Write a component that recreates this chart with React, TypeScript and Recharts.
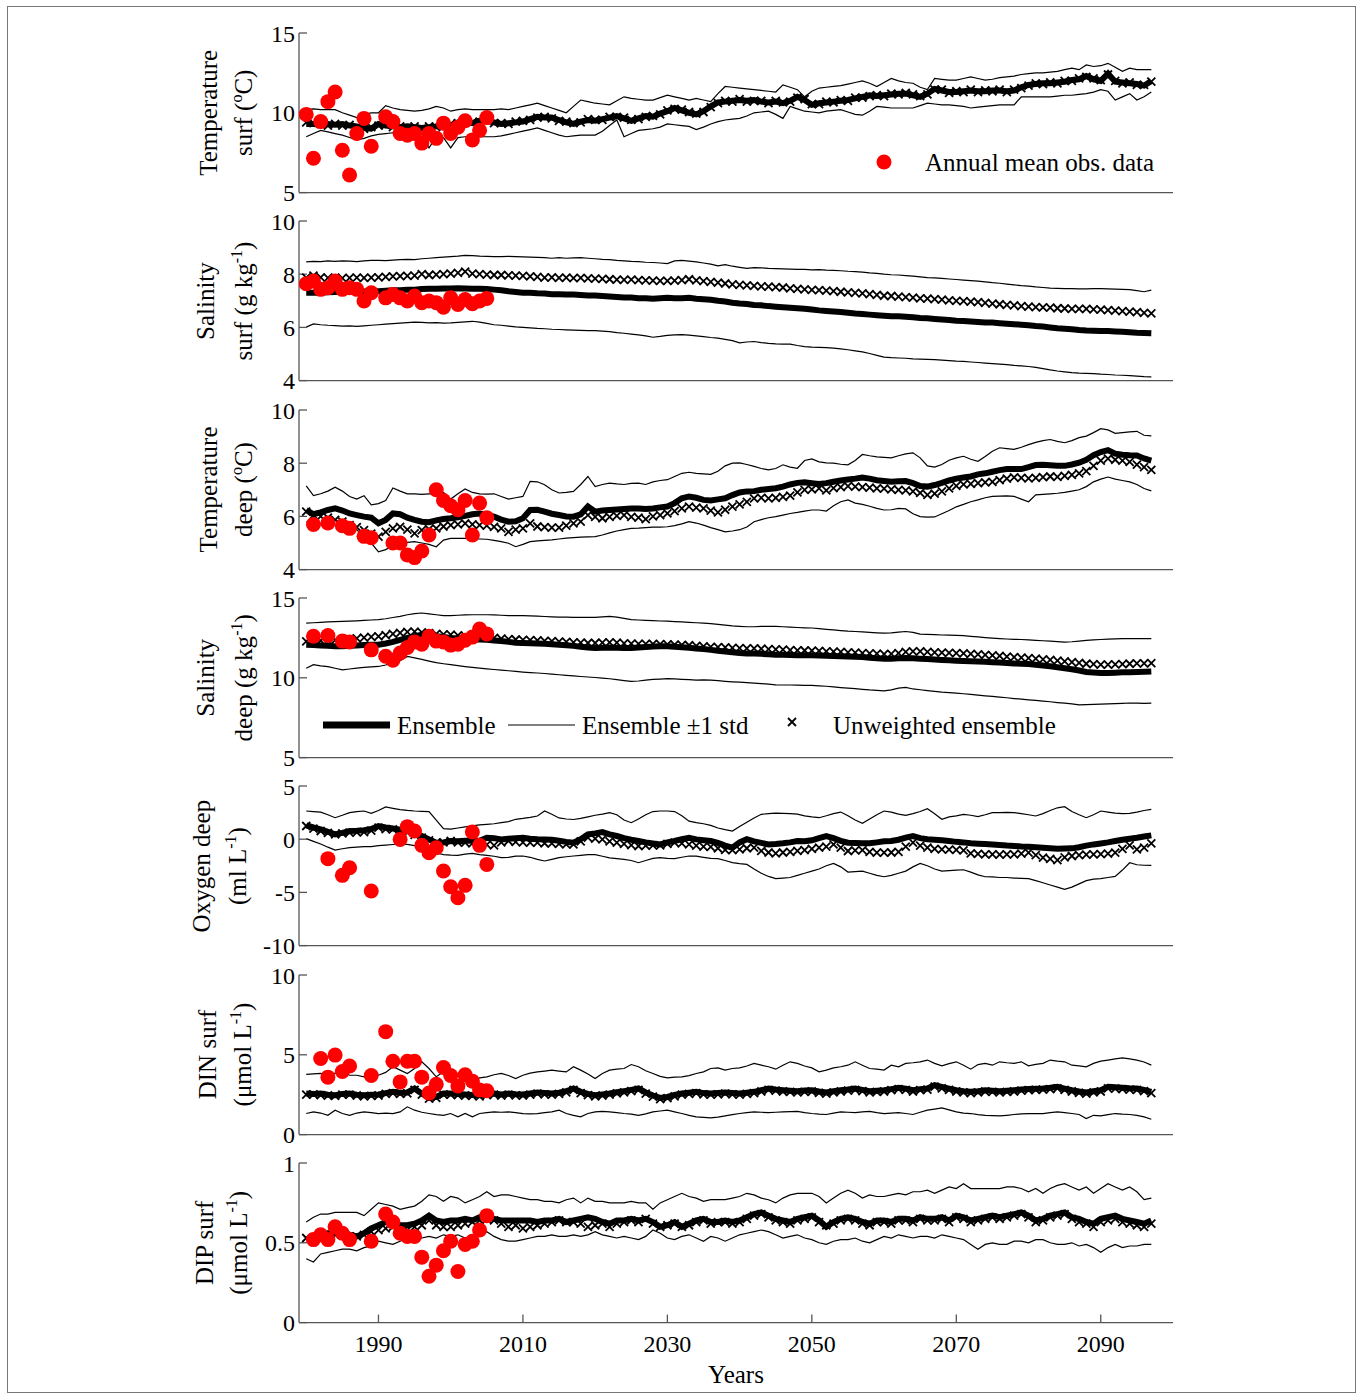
import React from "react";
import { ComposedChart, Line, XAxis, YAxis } from "recharts";

const FONT = "'Liberation Serif', 'Times New Roman', serif";
const AXIS = "#555";
const RED = "#ff0000";

const years = Array.from({ length: 118 }, (_, i) => 1980 + i);
const yearTicks = [1990, 2010, 2030, 2050, 2070, 2090];

// ---------- Temperature surf (°C) ----------
const tsEns = [
  9.3, 9.3, 9.25, 9.3, 9.25, 9.3, 9.2, 9.15, 9.05, 9.0,
  9.3, 9.2, 9.15, 9.1, 9.15, 9.1, 9.05, 9.1, 9.15, 9.3,
  9.2, 9.4, 9.45, 9.35, 9.5, 9.5, 9.4, 9.3, 9.35, 9.4,
  9.45, 9.6, 9.75, 9.7, 9.7, 9.55, 9.4, 9.3, 9.45, 9.55,
  9.5, 9.6, 9.7, 9.8, 9.65, 9.5, 9.65, 9.8, 9.75, 9.95,
  10.1, 10.3, 10.15, 10.0, 9.9, 10.1, 10.4, 10.65, 10.7, 10.75,
  10.8, 10.75, 10.8, 10.7, 10.65, 10.7, 10.6, 10.75, 11.0, 10.8,
  10.5, 10.6, 10.65, 10.7, 10.75, 10.8, 10.9, 11.0, 11.1, 11.05,
  11.1, 11.15, 11.2, 11.2, 11.1, 11.0, 11.2, 11.5, 11.4, 11.3,
  11.3, 11.35, 11.4, 11.35, 11.35, 11.4, 11.4, 11.35, 11.4, 11.6,
  11.75, 11.8, 11.85, 11.85, 11.9, 11.95, 12.05, 12.1, 12.3, 12.1,
  12.0, 12.45, 11.95, 11.9, 11.85, 11.8, 11.7, 12.0,
];
const tsHi = [
  10.2, 10.25, 10.2, 10.2, 10.2, 10.0, 9.85, 9.7, 9.9, 10.0,
  10.0, 10.45, 10.3, 10.2, 10.15, 10.1, 10.15, 10.25, 10.4, 10.3,
  10.1, 10.2, 10.25, 10.2, 10.2, 10.2, 10.2, 10.25, 10.2, 10.3,
  10.4, 10.5, 10.6, 10.45, 10.3, 10.15, 10.0, 10.4, 10.8, 10.7,
  10.6, 10.55, 10.5, 10.75, 11.0, 10.9, 10.85, 10.8, 10.8, 10.95,
  11.1, 11.0, 10.9, 10.8, 10.9, 10.8, 10.7, 11.2, 11.65, 11.6,
  11.55, 11.5, 11.45, 11.4, 11.35, 11.3, 11.75, 11.6, 11.45, 11.0,
  11.35, 11.55, 11.6, 11.65, 11.7, 11.8, 11.9, 12.0, 11.85, 11.65,
  11.9, 12.15, 12.0, 11.9, 11.85, 11.6, 11.45, 12.15, 12.1, 12.05,
  12.05, 12.15, 12.25, 12.15, 12.05, 12.1, 12.2, 12.25, 12.3, 12.4,
  12.45, 12.5, 12.5, 12.55, 12.6, 12.7, 12.8, 12.7, 13.0, 12.9,
  12.95, 13.1, 12.85, 12.6, 12.8, 12.7, 12.7, 12.7,
];
const tsLo = [
  8.5, 8.7, 8.9, 8.8, 8.7, 8.6, 8.45, 8.3, 8.4, 8.55,
  8.65, 8.7, 8.75, 8.6, 8.5, 8.45, 8.5, 7.8, 8.5, 8.45,
  7.8, 8.45, 8.5, 8.5, 8.5, 8.5, 8.5, 8.55, 8.65, 8.75,
  8.85, 8.95, 9.05, 8.9, 8.75, 8.6, 8.5, 8.55, 8.6, 8.6,
  8.6, 8.85, 9.2, 9.55, 8.5, 8.7, 8.9, 8.95, 9.0, 9.1,
  9.3, 9.25, 9.2, 9.15, 8.95, 9.1, 9.3, 9.45, 9.55, 9.6,
  9.65, 9.8, 10.0, 10.05, 10.1, 9.9, 9.65, 10.4, 10.25, 10.1,
  10.05, 10.0, 10.1, 10.15, 10.2, 10.05, 9.9, 9.85, 10.1, 10.4,
  10.35, 10.3, 10.3, 10.3, 10.3, 10.45, 10.6, 10.55, 10.5, 10.5,
  10.45, 10.4, 10.3, 10.35, 10.4, 10.45, 10.5, 10.5, 10.5, 11.0,
  11.0, 11.0, 11.0, 11.0, 11.05, 11.1, 11.1, 11.15, 11.2, 11.3,
  11.45, 11.35, 10.8, 11.0, 11.2, 10.8, 11.0, 11.3,
];
const tsUnw = [
  9.4, 9.35, 9.3, 9.2, 9.3, 9.2, 9.25, 9.1, 9.0, 9.1,
  9.2, 9.25, 9.1, 9.15, 9.05, 9.15, 9.0, 9.15, 9.1, 9.25,
  9.3, 9.35, 9.5, 9.4, 9.45, 9.55, 9.35, 9.35, 9.3, 9.45,
  9.5, 9.55, 9.7, 9.75, 9.65, 9.5, 9.45, 9.35, 9.4, 9.6,
  9.55, 9.55, 9.75, 9.75, 9.7, 9.55, 9.6, 9.75, 9.8, 9.9,
  10.15, 10.25, 10.2, 10.05, 9.95, 10.05, 10.35, 10.6, 10.75, 10.7,
  10.85, 10.7, 10.75, 10.75, 10.6, 10.75, 10.65, 10.7, 10.95, 10.85,
  10.55, 10.55, 10.7, 10.65, 10.8, 10.75, 10.95, 10.95, 11.05, 11.1,
  11.05, 11.2, 11.15, 11.25, 11.15, 11.05, 11.15, 11.45, 11.45, 11.25,
  11.35, 11.3, 11.45, 11.3, 11.4, 11.35, 11.45, 11.3, 11.45, 11.55,
  11.7, 11.85, 11.8, 11.9, 11.85, 12.0, 12.0, 12.15, 12.25, 12.15,
  12.05, 12.4, 12.0, 11.85, 11.9, 11.75, 11.75, 11.95,
];
// observations 1980-2005
const tsObs = [
  9.9, 7.15, 9.45, 10.7, 11.3, 7.65, 6.1, 8.7, 9.65, 7.9,
  null, 9.75, 9.45, 8.7, 8.6, 8.7, 8.1, 8.7, 8.4, 9.35,
  8.7, 9.1, 9.5, 8.3, 8.9, 9.7,
];

// ---------- Salinity surf (g kg-1) ----------
const ssEns = [
  7.3, 7.3, 7.3, 7.32, 7.33, 7.33, 7.35, 7.35, 7.35, 7.36,
  7.36, 7.38, 7.4, 7.4, 7.42, 7.42, 7.44, 7.45, 7.45, 7.46,
  7.46, 7.47, 7.46, 7.45, 7.45, 7.44, 7.42, 7.4, 7.36, 7.33,
  7.3, 7.3, 7.28, 7.27, 7.25, 7.25, 7.24, 7.24, 7.22, 7.2,
  7.2, 7.18, 7.16, 7.14, 7.12, 7.12, 7.1, 7.1, 7.08, 7.1,
  7.11, 7.1, 7.1, 7.11, 7.08, 7.06, 7.04, 7.0, 6.97, 6.93,
  6.9, 6.88, 6.84, 6.83, 6.8, 6.78, 6.76, 6.74, 6.72, 6.7,
  6.67, 6.64, 6.62, 6.6, 6.58, 6.55, 6.52, 6.5, 6.48, 6.46,
  6.44, 6.42, 6.42, 6.4, 6.38, 6.35, 6.34, 6.32, 6.3, 6.28,
  6.25, 6.24, 6.22, 6.2, 6.18, 6.18, 6.16, 6.14, 6.12, 6.1,
  6.08, 6.05, 6.03, 6.0, 5.97, 5.95, 5.93, 5.9, 5.88, 5.87,
  5.86, 5.86, 5.85, 5.84, 5.82, 5.8, 5.79, 5.78,
];
const ssHi = [
  8.46, 8.48, 8.47, 8.5, 8.48, 8.5, 8.49, 8.47, 8.5, 8.52,
  8.52, 8.51, 8.53, 8.55, 8.56, 8.55, 8.58, 8.6, 8.62, 8.64,
  8.66, 8.68, 8.71, 8.7, 8.68, 8.67, 8.66, 8.66, 8.67, 8.66,
  8.65, 8.64, 8.63, 8.62, 8.6, 8.62, 8.6, 8.61, 8.62, 8.6,
  8.58, 8.56, 8.55, 8.52, 8.5, 8.48, 8.47, 8.45, 8.44, 8.42,
  8.4, 8.5, 8.52, 8.49, 8.46, 8.42, 8.38, 8.31, 8.36, 8.3,
  8.26, 8.22, 8.25, 8.24, 8.22, 8.21, 8.2, 8.19, 8.18, 8.18,
  8.16, 8.17, 8.15, 8.14, 8.13, 8.11, 8.1, 8.08, 8.05, 8.03,
  8.0, 7.98, 7.97, 7.95, 7.93, 7.9, 7.87, 7.86, 7.84, 7.82,
  7.8, 7.78, 7.76, 7.74, 7.71, 7.68, 7.66, 7.63, 7.6, 7.57,
  7.55, 7.52, 7.5, 7.48, 7.47, 7.46, 7.46, 7.45, 7.45, 7.46,
  7.46, 7.45, 7.44, 7.43, 7.42, 7.38, 7.34, 7.4,
];
const ssLo = [
  6.01, 6.13, 6.1, 6.08, 6.07, 6.05, 6.06, 6.04, 6.06, 6.08,
  6.1, 6.12, 6.14, 6.16, 6.18, 6.2, 6.19, 6.17, 6.18, 6.16,
  6.17, 6.19, 6.21, 6.23, 6.2, 6.15, 6.1, 6.08, 6.05, 6.02,
  6.0, 5.98, 5.96, 5.95, 5.93, 5.92, 5.91, 5.9, 5.89, 5.88,
  5.88, 5.86, 5.84, 5.8, 5.78, 5.75, 5.72, 5.68, 5.63, 5.66,
  5.7, 5.72, 5.73, 5.71, 5.68, 5.65, 5.62, 5.6, 5.55, 5.5,
  5.42, 5.45, 5.47, 5.43, 5.4, 5.38, 5.37, 5.37, 5.32, 5.28,
  5.26, 5.25, 5.24, 5.22, 5.19, 5.16, 5.12, 5.08, 5.02, 4.95,
  4.88, 4.86, 4.85, 4.84, 4.82, 4.81, 4.8, 4.79, 4.77, 4.75,
  4.73, 4.72, 4.7, 4.68, 4.66, 4.64, 4.62, 4.6, 4.57, 4.55,
  4.53, 4.5, 4.45, 4.4, 4.36, 4.33, 4.3, 4.28, 4.27, 4.26,
  4.24, 4.23, 4.21, 4.2, 4.19, 4.17, 4.15, 4.14,
];
const ssUnw = [
  7.87, 7.95, 7.88, 7.86, 7.87, 7.85, 7.86, 7.87, 7.86, 7.87,
  7.88, 7.9, 7.92, 7.93, 7.94, 7.95, 8.0, 7.97, 7.98, 8.0,
  8.02, 8.05, 8.1, 8.02, 8.0, 7.98, 7.97, 7.97, 7.96, 7.95,
  7.94, 7.92, 7.9, 7.87, 7.88, 7.86, 7.87, 7.85, 7.86, 7.84,
  7.83, 7.82, 7.81, 7.8, 7.79, 7.8, 7.78, 7.77, 7.76, 7.75,
  7.75, 7.76, 7.78, 7.81, 7.77, 7.74, 7.71, 7.68, 7.65, 7.62,
  7.6, 7.58, 7.56, 7.54, 7.53, 7.51, 7.5, 7.47, 7.45, 7.43,
  7.41, 7.4, 7.38, 7.36, 7.34, 7.32, 7.3, 7.28, 7.25, 7.22,
  7.19, 7.18, 7.16, 7.14, 7.12, 7.09, 7.08, 7.06, 7.04, 7.02,
  7.0, 6.99, 6.97, 6.95, 6.92, 6.89, 6.87, 6.85, 6.83, 6.8,
  6.78, 6.76, 6.75, 6.74, 6.72, 6.71, 6.7, 6.7, 6.7, 6.68,
  6.67, 6.65, 6.63, 6.61, 6.59, 6.57, 6.55, 6.53,
];
const ssObs = [
  7.64, 7.74, 7.43, 7.49, 7.74, 7.43, 7.49, 7.43, 6.99, 7.3,
  null, 7.11, 7.24, 7.11, 6.99, 7.18, 6.93, 6.99, 6.93, 6.76,
  7.11, 6.86, 7.05, 6.89, 6.99, 7.09,
];

// ---------- Temperature deep (°C) ----------
const tdEns = [
  6.24, 6.08, 6.15, 6.24, 6.3, 6.22, 6.11, 6.05, 5.99, 5.95,
  5.74, 5.87, 6.11, 6.08, 5.95, 5.87, 5.8, 5.78, 5.85, 5.9,
  5.93, 5.97, 6.02, 6.08, 6.11, 6.05, 5.99, 5.88, 5.8, 5.82,
  5.93, 6.24, 6.25, 6.18, 6.1, 6.05, 6.0, 5.99, 6.08, 6.37,
  6.18, 6.22, 6.24, 6.26, 6.28, 6.3, 6.3, 6.28, 6.3, 6.34,
  6.37, 6.5, 6.68, 6.75, 6.7, 6.62, 6.6, 6.64, 6.68, 6.8,
  6.9, 6.94, 6.95, 7.0, 7.03, 7.06, 7.12, 7.2, 7.26, 7.28,
  7.25, 7.22, 7.25, 7.3, 7.35, 7.39, 7.42, 7.46, 7.42, 7.36,
  7.33, 7.3, 7.32, 7.33, 7.25, 7.14, 7.12, 7.18, 7.26, 7.35,
  7.42, 7.46, 7.5, 7.58, 7.62, 7.68, 7.74, 7.78, 7.78, 7.78,
  7.85, 7.93, 7.94, 7.92, 7.9, 7.9, 7.95, 8.02, 8.13, 8.3,
  8.42, 8.49, 8.36, 8.32, 8.3, 8.29, 8.18, 8.1,
];
const tdHi = [
  7.15, 6.78, 6.85, 6.95, 7.1, 6.95, 6.75, 6.65, 6.78, 6.43,
  6.48, 6.6, 7.07, 6.95, 6.85, 6.85, 6.83, 6.85, 6.85, 6.9,
  6.65, 6.85, 7.03, 6.9, 6.85, 6.84, 6.85, 6.75, 6.65, 6.7,
  6.75, 7.32, 7.3, 7.19, 7.0, 6.88, 6.9, 6.94, 7.2, 7.5,
  7.12, 7.2, 7.25, 7.22, 7.2, 7.24, 7.25, 7.2, 7.3, 7.35,
  7.38, 7.5, 7.62, 7.66, 7.62, 7.6, 7.58, 7.7, 7.9, 8.0,
  8.01, 7.95, 7.88, 7.8, 7.75, 7.8, 7.94, 7.85, 7.81, 8.1,
  8.16, 8.05, 8.01, 8.0, 7.96, 7.94, 8.1, 8.33, 8.28, 8.24,
  8.22, 8.2, 8.28, 8.35, 8.39, 8.2, 7.9, 7.85, 7.95, 8.11,
  8.2, 8.26, 8.15, 8.07, 8.25, 8.45, 8.58, 8.55, 8.52, 8.6,
  8.7, 8.78, 8.85, 8.89, 8.82, 8.77, 8.85, 8.96, 9.02, 9.15,
  9.3, 9.25, 9.12, 9.15, 9.18, 9.2, 9.05, 9.03,
];
const tdLo = [
  5.8, 5.67, 5.72, 5.75, 5.87, 5.8, 5.68, 5.5, 5.24, 5.0,
  4.67, 4.75, 4.9, 4.99, 5.02, 5.05, 5.0, 4.95, 4.86, 5.11,
  5.17, 5.17, 5.17, 5.16, 5.15, 5.14, 5.1, 5.05, 4.99, 4.86,
  4.95, 5.05, 5.08, 5.1, 5.12, 5.15, 5.18, 5.2, 5.22, 5.23,
  5.24, 5.3, 5.38, 5.45, 5.5, 5.55, 5.56, 5.58, 5.6, 5.6,
  5.61, 5.65, 5.72, 5.8, 5.75, 5.67, 5.58, 5.5, 5.42, 5.45,
  5.5, 5.6, 5.8, 5.88, 5.95, 5.99, 6.05, 6.11, 6.15, 6.2,
  6.24, 6.24, 6.2, 6.4, 6.55, 6.62, 6.5, 6.45, 6.38, 6.3,
  6.24, 6.25, 6.3, 6.28, 6.1, 5.99, 5.97, 5.98, 6.1, 6.22,
  6.36, 6.45, 6.55, 6.62, 6.7, 6.75, 6.76, 6.77, 6.75, 6.65,
  6.55, 6.81, 6.83, 6.85, 6.87, 6.9, 6.95, 7.0, 7.12, 7.3,
  7.4, 7.48, 7.4, 7.35, 7.3, 7.2, 7.05, 6.96,
];
const tdUnw = [
  6.18, 6.05, 6.0, 5.95, 5.87, 5.8, 5.67, 5.6, 5.48, 5.35,
  5.24, 5.42, 5.55, 5.61, 5.5, 5.36, 5.48, 5.52, 5.55, 5.62,
  5.67, 5.7, 5.74, 5.7, 5.67, 5.65, 5.61, 5.55, 5.42, 5.5,
  5.55, 5.74, 5.62, 5.6, 5.58, 5.58, 5.65, 5.74, 5.8, 6.05,
  5.98, 5.93, 5.98, 6.02, 6.05, 5.98, 5.95, 5.9, 6.0, 6.05,
  6.11, 6.2, 6.3, 6.37, 6.33, 6.3, 6.22, 6.15, 6.25, 6.37,
  6.45, 6.55, 6.68, 6.7, 6.68, 6.7, 6.73, 6.78, 6.9, 7.0,
  7.02, 7.05, 6.98, 7.06, 7.1, 7.14, 7.12, 7.1, 7.08, 7.05,
  7.04, 7.02, 7.0, 6.98, 6.94, 6.88, 6.81, 6.86, 6.94, 7.05,
  7.15, 7.2, 7.22, 7.25, 7.28, 7.3, 7.36, 7.42, 7.47, 7.45,
  7.43, 7.45, 7.48, 7.5, 7.49, 7.52, 7.56, 7.62, 7.7, 7.9,
  8.1, 8.17, 8.13, 8.1, 8.05, 7.95, 7.85, 7.75,
];
const tdObs = [
  null, 5.7, null, 5.75, null, 5.65, 5.55, null, 5.25, 5.2,
  null, null, 5.0, 5.0, 4.55, 4.45, 4.7, 5.3, 7.0, 6.6,
  6.4, 6.25, 6.6, 5.3, 6.5, 5.95,
];

// ---------- Salinity deep (g kg-1) ----------
const sdEns = [
  12.07, 12.05, 12.03, 12.0, 11.98, 11.97, 12.0, 12.03, 12.05, 12.07,
  12.07, 12.15, 12.25, 12.38, 12.5, 12.6, 12.7, 12.65, 12.6, 12.55,
  12.5, 12.48, 12.45, 12.42, 12.4, 12.38, 12.34, 12.3, 12.25, 12.2,
  12.18, 12.16, 12.15, 12.13, 12.1, 12.07, 12.04, 12.0, 11.95, 11.9,
  11.86, 11.88, 11.9, 11.88, 11.86, 11.86, 11.9, 11.93, 11.96, 11.97,
  11.97, 11.95, 11.92, 11.88, 11.84, 11.8, 11.75, 11.7, 11.65, 11.6,
  11.55, 11.53, 11.52, 11.5, 11.47, 11.44, 11.44, 11.43, 11.42, 11.42,
  11.42, 11.4, 11.38, 11.36, 11.35, 11.34, 11.32, 11.3, 11.26, 11.23,
  11.2, 11.2, 11.22, 11.24, 11.22, 11.2, 11.18, 11.15, 11.12, 11.1,
  11.07, 11.05, 11.04, 11.02, 11.0, 10.98, 10.96, 10.93, 10.9, 10.88,
  10.86, 10.82, 10.77, 10.72, 10.66, 10.6, 10.53, 10.46, 10.36, 10.33,
  10.3, 10.3, 10.32, 10.34, 10.35, 10.36, 10.38, 10.4,
];
const sdHi = [
  13.43, 13.45, 13.47, 13.5, 13.52, 13.54, 13.55, 13.57, 13.6, 13.62,
  13.64, 13.7, 13.78, 13.85, 13.95, 14.02, 14.06, 14.0, 13.95, 13.9,
  13.9, 13.92, 13.94, 13.95, 13.95, 13.95, 13.94, 13.92, 13.9, 13.9,
  13.9, 13.88, 13.86, 13.84, 13.82, 13.8, 13.8, 13.79, 13.78, 13.78,
  13.78, 13.82, 13.85, 13.8, 13.72, 13.64, 13.62, 13.6, 13.58, 13.56,
  13.55, 13.52, 13.5, 13.47, 13.45, 13.43, 13.4, 13.35, 13.3, 13.25,
  13.22, 13.2, 13.2, 13.22, 13.23, 13.22, 13.2, 13.18, 13.15, 13.13,
  13.12, 13.08, 13.04, 13.0, 12.96, 12.92, 12.9, 12.88, 12.85, 12.82,
  12.8, 12.82, 12.86, 12.9, 12.85, 12.74, 12.72, 12.7, 12.68, 12.67,
  12.66, 12.64, 12.6, 12.56, 12.52, 12.49, 12.46, 12.43, 12.41, 12.4,
  12.38, 12.35, 12.32, 12.3, 12.27, 12.24, 12.26, 12.3, 12.35, 12.38,
  12.4, 12.42, 12.44, 12.45, 12.45, 12.46, 12.45, 12.45,
];
const sdLo = [
  10.6, 10.82, 10.75, 10.7, 10.6, 10.5, 10.55, 10.6, 10.65, 10.68,
  10.71, 10.8, 10.95, 11.07, 11.34, 11.25, 11.15, 11.05, 10.95, 10.88,
  10.82, 10.76, 10.7, 10.65, 10.6, 10.56, 10.52, 10.48, 10.44, 10.4,
  10.36, 10.33, 10.3, 10.27, 10.23, 10.19, 10.15, 10.12, 10.08, 10.05,
  10.02, 9.98, 9.94, 9.88, 9.82, 9.77, 9.8, 9.86, 9.9, 9.92,
  9.95, 9.93, 9.9, 9.88, 9.86, 9.87, 9.85, 9.82, 9.78, 9.75,
  9.73, 9.7, 9.67, 9.64, 9.6, 9.56, 9.55, 9.55, 9.54, 9.53,
  9.52, 9.5, 9.47, 9.43, 9.39, 9.35, 9.32, 9.28, 9.24, 9.21,
  9.18, 9.24, 9.35, 9.4, 9.3, 9.25, 9.2, 9.15, 9.1, 9.07,
  9.04, 9.0, 8.96, 8.91, 8.87, 8.83, 8.79, 8.75, 8.7, 8.66,
  8.62, 8.58, 8.54, 8.5, 8.45, 8.41, 8.36, 8.3, 8.32, 8.34,
  8.35, 8.37, 8.38, 8.4, 8.42, 8.41, 8.4, 8.41,
];
const sdUnw = [
  12.28, 12.3, 12.33, 12.35, 12.36, 12.38, 12.42, 12.47, 12.52, 12.56,
  12.6, 12.68, 12.75, 12.82, 12.88, 12.9, 12.85, 12.8, 12.75, 12.72,
  12.7, 12.66, 12.62, 12.58, 12.55, 12.53, 12.5, 12.46, 12.42, 12.4,
  12.38, 12.36, 12.34, 12.32, 12.3, 12.27, 12.25, 12.22, 12.2, 12.18,
  12.18, 12.2, 12.22, 12.2, 12.16, 12.14, 12.12, 12.13, 12.12, 12.11,
  12.1, 12.08, 12.06, 12.04, 12.0, 11.97, 11.94, 11.92, 11.9, 11.88,
  11.86, 11.85, 11.84, 11.82, 11.8, 11.78, 11.76, 11.74, 11.72, 11.71,
  11.7, 11.68, 11.66, 11.64, 11.62, 11.6, 11.58, 11.55, 11.53, 11.51,
  11.49, 11.5, 11.55, 11.62, 11.66, 11.65, 11.62, 11.6, 11.58, 11.56,
  11.55, 11.53, 11.5, 11.47, 11.44, 11.4, 11.37, 11.33, 11.29, 11.26,
  11.23, 11.2, 11.16, 11.12, 11.08, 11.03, 10.98, 10.93, 10.88, 10.85,
  10.82, 10.82, 10.84, 10.86, 10.88, 10.9, 10.91, 10.92,
];
const sdObs = [
  null, 12.6, null, 12.65, null, 12.3, 12.25, null, null, 11.75,
  null, 11.35, 11.1, 11.55, 11.9, 12.25, 12.1, 12.6, 12.3, 12.25,
  12.05, 12.1, 12.35, 12.55, 13.05, 12.75,
];

// ---------- Oxygen deep (ml L-1) ----------
const oxEns = [
  1.3, 1.1, 0.92, 0.7, 0.45, 0.6, 0.77, 0.8, 0.85, 0.95,
  1.24, 1.1, 1.0, 0.9, 0.8, 0.61, 0.3, -0.02, -0.33, -0.3,
  -0.17, -0.2, -0.15, -0.15, -0.15, 0.14, 0.1, -0.02, 0.05, 0.1,
  0.14, 0.05, 0.0, -0.02, -0.05, -0.15, -0.25, -0.33, 0.0, 0.45,
  0.55, 0.67, 0.45, 0.3, 0.1, -0.05, -0.17, -0.3, -0.4, -0.49,
  -0.3, -0.17, 0.0, 0.14, -0.02, -0.1, -0.17, -0.35, -0.6, -0.8,
  -0.3, 0.0, -0.2, -0.35, -0.49, -0.45, -0.39, -0.3, -0.17, -0.2,
  -0.1, 0.1, 0.3, 0.1, -0.15, -0.33, -0.35, -0.38, -0.39, -0.3,
  -0.2, -0.17, -0.05, 0.15, 0.3, 0.1, 0.0, -0.05, -0.1, -0.17,
  -0.25, -0.3, -0.39, -0.42, -0.45, -0.49, -0.55, -0.6, -0.63, -0.68,
  -0.7, -0.75, -0.8, -0.85, -0.89, -0.88, -0.86, -0.75, -0.6, -0.49,
  -0.4, -0.3, -0.17, -0.05, 0.05, 0.14, 0.25, 0.36,
];
const oxHi = [
  2.65, 2.6, 2.55, 2.3, 2.02, 2.25, 2.5, 2.6, 2.65, 2.43,
  2.7, 3.03, 2.9, 2.78, 2.7, 2.65, 2.62, 2.6, 1.8, 1.0,
  0.95, 1.05, 1.15, 1.25, 1.35, 1.4, 1.45, 1.55, 1.65, 1.87,
  1.95, 2.05, 2.18, 2.65, 2.35, 2.0, 1.9, 1.85, 1.95, 2.1,
  2.25, 2.35, 2.5, 2.3, 1.8, 1.55, 1.9, 2.3, 2.6, 2.65,
  2.65, 2.6, 2.2, 1.7, 1.55, 1.45, 1.3, 1.05, 0.9, 0.77,
  1.2, 1.6, 2.0, 2.34, 2.4, 2.45, 2.43, 2.4, 2.35, 2.2,
  2.1, 2.02, 2.2, 2.4, 2.55, 2.2, 1.8, 1.49, 1.9, 2.3,
  2.65, 2.55, 2.35, 2.24, 2.4, 2.6, 2.87, 2.4, 1.87, 2.1,
  2.2, 2.34, 2.25, 2.12, 2.3, 2.5, 2.5, 2.52, 2.5, 2.4,
  2.3, 2.18, 2.4, 2.7, 2.95, 3.06, 2.6, 2.3, 2.02, 2.3,
  2.65, 2.55, 2.45, 2.4, 2.43, 2.55, 2.7, 2.81,
];
const oxLo = [
  0.05, -0.2, -0.45, -0.75, -1.02, -0.9, -0.8, -0.75, -0.7, -0.7,
  -0.6, -0.55, -0.5, -0.5, -0.49, -0.6, -0.8, -1.11, -1.3, -1.45,
  -1.5, -1.52, -1.4, -1.33, -1.45, -1.52, -1.6, -1.74, -1.7, -1.6,
  -1.58, -1.7, -1.9, -2.05, -1.9, -1.74, -1.65, -1.58, -1.52, -1.45,
  -1.45, -1.6, -1.75, -1.83, -1.9, -2.0, -2.21, -2.0, -1.8, -1.74,
  -1.8, -1.83, -1.7, -1.58, -1.6, -1.7, -1.8, -1.83, -2.0, -2.2,
  -2.3, -2.37, -2.8, -3.2, -3.5, -3.71, -3.65, -3.6, -3.4, -3.2,
  -3.0, -2.8, -2.5, -2.27, -2.6, -3.09, -3.05, -3.0, -3.2, -3.4,
  -3.53, -3.4, -3.2, -3.0, -2.6, -2.27, -2.5, -2.8, -3.0, -2.95,
  -2.9, -2.87, -3.1, -3.35, -3.53, -3.55, -3.6, -3.6, -3.65, -3.68,
  -3.71, -3.9, -4.09, -4.3, -4.5, -4.72, -4.5, -4.2, -3.9, -3.75,
  -3.71, -3.6, -3.5, -2.9, -2.21, -2.4, -2.45, -2.46,
];
const oxUnw = [
  1.24, 1.0, 0.77, 0.6, 0.45, 0.55, 0.61, 0.65, 0.67, 0.8,
  1.08, 0.95, 0.92, 0.8, 0.61, 0.4, 0.14, -0.1, -0.33, -0.3,
  -0.17, -0.3, -0.33, -0.4, -0.49, -0.5, -0.58, -0.3, -0.17, -0.25,
  -0.3, -0.33, -0.33, -0.38, -0.39, -0.45, -0.49, -0.49, -0.2, 0.14,
  0.05, -0.02, -0.2, -0.33, -0.45, -0.55, -0.64, -0.6, -0.58, -0.58,
  -0.45, -0.33, -0.4, -0.49, -0.6, -0.7, -0.72, -0.85, -1.0, -1.02,
  -0.95, -0.85, -0.8, -1.1, -1.25, -1.33, -1.25, -1.2, -1.1, -1.02,
  -0.9, -0.8, -0.7, -0.49, -0.8, -1.11, -1.05, -1.02, -1.2, -1.27,
  -1.27, -1.25, -1.2, -0.7, -0.33, -0.6, -0.8, -0.9, -0.95, -0.98,
  -1.0, -1.05, -1.33, -1.38, -1.43, -1.43, -1.45, -1.43, -1.43, -1.35,
  -1.27, -1.5, -1.74, -1.85, -1.96, -1.7, -1.58, -1.5, -1.45, -1.43,
  -1.4, -1.35, -1.27, -0.9, -0.58, -0.95, -0.8, -0.39,
];
const oxObs = [
  null, null, null, -1.83, null, -3.4, -2.68, null, null, -4.87,
  null, null, null, -0.02, 1.18, 0.77, -0.58, -1.27, -0.8, -2.99,
  -4.47, -5.5, -4.34, 0.67, -0.58, -2.37,
];

// ---------- DIN surf (µmol L-1) ----------
const dinEns = [
  2.57, 2.55, 2.57, 2.5, 2.47, 2.55, 2.57, 2.5, 2.47, 2.5,
  2.51, 2.6, 2.68, 2.62, 2.64, 2.89, 2.57, 2.3, 2.36, 2.57,
  2.57, 2.55, 2.51, 2.48, 2.47, 2.55, 2.57, 2.52, 2.57, 2.53,
  2.51, 2.58, 2.64, 2.6, 2.57, 2.62, 2.72, 2.89, 2.68, 2.55,
  2.47, 2.52, 2.57, 2.65, 2.72, 2.8, 2.89, 2.64, 2.45, 2.3,
  2.36, 2.48, 2.57, 2.62, 2.68, 2.6, 2.57, 2.6, 2.64, 2.6,
  2.57, 2.62, 2.68, 2.78, 2.89, 2.82, 2.78, 2.75, 2.72, 2.76,
  2.78, 2.7, 2.64, 2.72, 2.78, 2.82, 2.89, 2.8, 2.72, 2.75,
  2.78, 2.85, 2.93, 2.88, 2.78, 2.85, 2.89, 3.1, 2.99, 2.88,
  2.78, 2.72, 2.68, 2.72, 2.78, 2.75, 2.72, 2.75, 2.78, 2.82,
  2.85, 2.87, 2.89, 2.93, 2.99, 2.88, 2.78, 2.7, 2.64, 2.72,
  2.78, 2.99, 2.96, 2.93, 2.9, 2.89, 2.8, 2.68,
];
const dinHi = [
  3.77, 3.8, 3.83, 3.72, 3.85, 3.93, 3.72, 3.72, 3.62, 3.83,
  3.72, 3.9, 4.25, 4.04, 3.83, 4.14, 4.56, 4.14, 3.62, 3.93,
  3.72, 3.65, 3.62, 3.41, 3.55, 3.62, 3.75, 3.83, 3.7, 3.51,
  3.72, 3.85, 3.93, 3.98, 4.04, 3.98, 3.93, 4.25, 4.04, 3.8,
  3.51, 3.83, 4.04, 4.1, 4.14, 4.39, 4.25, 4.0, 3.83, 3.65,
  3.56, 3.6, 3.62, 3.7, 3.83, 3.93, 4.14, 4.18, 4.04, 4.14,
  4.18, 4.3, 4.46, 4.35, 4.25, 4.1, 4.35, 4.56, 4.46, 4.3,
  4.18, 3.93, 4.04, 4.18, 4.25, 4.35, 4.56, 4.35, 4.14, 4.1,
  4.04, 4.35, 4.25, 4.46, 4.5, 4.56, 4.67, 4.46, 4.31, 4.45,
  4.56, 4.35, 4.1, 4.39, 4.46, 4.35, 4.56, 4.5, 4.46, 4.56,
  4.31, 4.4, 4.46, 4.67, 4.6, 4.56, 4.35, 4.3, 4.25, 4.46,
  4.6, 4.67, 4.75, 4.81, 4.75, 4.67, 4.55, 4.35,
];
const dinLo = [
  1.32, 1.42, 1.35, 1.21, 1.53, 1.32, 1.21, 1.35, 1.42, 1.38,
  1.32, 1.35, 1.32, 1.42, 1.74, 1.53, 1.4, 1.32, 1.25, 1.21,
  1.32, 1.11, 1.32, 1.11, 1.32, 1.38, 1.42, 1.4, 1.42, 1.38,
  1.32, 1.3, 1.32, 1.38, 1.42, 1.53, 1.32, 1.2, 1.11, 1.32,
  1.42, 1.45, 1.42, 1.38, 1.32, 1.28, 1.21, 1.3, 1.42, 1.48,
  1.53, 1.42, 1.32, 1.2, 1.11, 1.08, 1.05, 1.1, 1.17, 1.25,
  1.32, 1.38, 1.42, 1.4, 1.38, 1.4, 1.42, 1.44, 1.46, 1.38,
  1.32, 1.28, 1.26, 1.35, 1.42, 1.4, 1.38, 1.42, 1.46, 1.38,
  1.32, 1.35, 1.38, 1.32, 1.26, 1.4, 1.53, 1.6, 1.67, 1.55,
  1.42, 1.35, 1.32, 1.25, 1.21, 1.19, 1.17, 1.21, 1.26, 1.3,
  1.32, 1.32, 1.32, 1.38, 1.42, 1.38, 1.32, 1.26, 1.0, 1.21,
  1.17, 1.25, 1.32, 1.28, 1.26, 1.2, 1.11, 0.96,
];
const dinUnw = [
  2.5, 2.52, 2.48, 2.45, 2.42, 2.5, 2.5, 2.45, 2.4, 2.42,
  2.45, 2.55, 2.6, 2.55, 2.58, 2.8, 2.5, 2.25, 2.3, 2.5,
  2.5, 2.48, 2.45, 2.42, 2.4, 2.48, 2.5, 2.45, 2.5, 2.46,
  2.45, 2.5, 2.56, 2.52, 2.5, 2.55, 2.65, 2.8, 2.6, 2.48,
  2.4, 2.45, 2.5, 2.58, 2.65, 2.72, 2.8, 2.56, 2.38, 2.22,
  2.28, 2.4, 2.5, 2.55, 2.6, 2.52, 2.5, 2.52, 2.56, 2.52,
  2.5, 2.55, 2.6, 2.7, 2.8, 2.75, 2.7, 2.68, 2.65, 2.68,
  2.7, 2.62, 2.56, 2.64, 2.7, 2.75, 2.8, 2.72, 2.65, 2.68,
  2.7, 2.78, 2.85, 2.8, 2.7, 2.78, 2.82, 3.0, 2.9, 2.8,
  2.7, 2.65, 2.6, 2.65, 2.7, 2.68, 2.65, 2.68, 2.7, 2.75,
  2.78, 2.8, 2.82, 2.85, 2.9, 2.8, 2.7, 2.62, 2.56, 2.64,
  2.7, 2.9, 2.88, 2.85, 2.82, 2.8, 2.72, 2.6,
];
const dinObs = [
  null, null, 4.77, 3.6, 4.98, 3.95, 4.3, null, null, 3.7,
  null, 6.45, 4.6, 3.3, 4.6, 4.6, 3.6, 2.6, 3.15, 4.2,
  3.7, 3.05, 3.75, 3.35, 2.8, 2.75,
];

// ---------- DIP surf (µmol L-1) ----------
const dipEns = [
  0.52, 0.53, 0.54, 0.56, 0.56, 0.57, 0.55, 0.54, 0.56, 0.59,
  0.61, 0.63, 0.62, 0.61, 0.61, 0.62, 0.64, 0.67, 0.64, 0.63,
  0.64, 0.64, 0.65, 0.64, 0.66, 0.66, 0.65, 0.64, 0.64, 0.64,
  0.64, 0.64, 0.63, 0.64, 0.64, 0.65, 0.63, 0.64, 0.65, 0.66,
  0.65, 0.63, 0.62, 0.64, 0.64, 0.65, 0.64, 0.65, 0.63, 0.6,
  0.61, 0.63, 0.6, 0.62, 0.64, 0.65, 0.63, 0.63, 0.64, 0.63,
  0.64, 0.66, 0.68, 0.69, 0.67, 0.65, 0.64, 0.63, 0.65, 0.66,
  0.67, 0.64, 0.6, 0.63, 0.65, 0.66, 0.65, 0.63, 0.62, 0.64,
  0.64, 0.63, 0.65, 0.65, 0.64, 0.66, 0.65, 0.65, 0.66, 0.64,
  0.67, 0.66, 0.64, 0.65, 0.66, 0.67, 0.66, 0.67, 0.68, 0.69,
  0.67, 0.64, 0.65, 0.67, 0.68, 0.69, 0.66, 0.65, 0.63, 0.62,
  0.65, 0.66, 0.67, 0.65, 0.64, 0.63, 0.62, 0.64,
];
const dipHi = [
  0.63, 0.66, 0.68, 0.68, 0.69, 0.69, 0.69, 0.69, 0.67, 0.71,
  0.75, 0.74, 0.73, 0.71, 0.72, 0.73, 0.76, 0.8, 0.79, 0.76,
  0.79, 0.78, 0.75, 0.77, 0.79, 0.82, 0.79, 0.8, 0.8, 0.79,
  0.78, 0.77, 0.77, 0.76, 0.76, 0.75, 0.77, 0.78, 0.75, 0.78,
  0.76, 0.76, 0.75, 0.75, 0.75, 0.76, 0.75, 0.75, 0.71, 0.75,
  0.77, 0.79, 0.81, 0.79, 0.78, 0.76, 0.77, 0.77, 0.77, 0.78,
  0.79, 0.81, 0.8, 0.78, 0.77, 0.75, 0.78, 0.8, 0.81, 0.81,
  0.81, 0.79, 0.75, 0.78, 0.81, 0.83, 0.81, 0.78, 0.8, 0.79,
  0.79, 0.8, 0.81, 0.8, 0.82, 0.82, 0.83, 0.81, 0.83, 0.85,
  0.84, 0.87, 0.84, 0.84, 0.84, 0.84, 0.84, 0.85, 0.85, 0.84,
  0.82, 0.84, 0.81, 0.84, 0.86, 0.87, 0.85, 0.83, 0.85, 0.81,
  0.84, 0.87, 0.85, 0.83, 0.85, 0.82, 0.77, 0.78,
];
const dipLo = [
  0.4, 0.38, 0.43, 0.44, 0.45, 0.46, 0.46, 0.45, 0.47, 0.48,
  0.51, 0.5, 0.49, 0.51, 0.53, 0.52, 0.53, 0.54, 0.53, 0.55,
  0.54, 0.55, 0.53, 0.54, 0.55, 0.57, 0.54, 0.52, 0.51, 0.51,
  0.52, 0.53, 0.54, 0.54, 0.55, 0.54, 0.54, 0.55, 0.54, 0.55,
  0.57, 0.55, 0.54, 0.53, 0.54, 0.53, 0.52, 0.54, 0.58, 0.56,
  0.53, 0.52, 0.54, 0.55, 0.53, 0.51, 0.54, 0.53, 0.51, 0.53,
  0.55, 0.56, 0.57, 0.58, 0.57, 0.55, 0.53, 0.54, 0.55, 0.53,
  0.52, 0.5, 0.49, 0.51, 0.52, 0.52, 0.53, 0.51, 0.5, 0.52,
  0.54, 0.53, 0.55, 0.54, 0.53, 0.54, 0.54, 0.53, 0.55, 0.54,
  0.53, 0.52, 0.49, 0.46, 0.49, 0.5, 0.49, 0.49, 0.51, 0.51,
  0.5, 0.52, 0.52, 0.5, 0.49, 0.49, 0.5, 0.48, 0.49, 0.47,
  0.44, 0.47, 0.49, 0.47, 0.48, 0.48, 0.49, 0.49,
];
const dipUnw = [
  0.53, 0.53, 0.54, 0.55, 0.55, 0.55, 0.54, 0.54, 0.55, 0.57,
  0.58, 0.59, 0.6, 0.59, 0.58, 0.6, 0.61, 0.64, 0.61, 0.6,
  0.6, 0.61, 0.62, 0.63, 0.64, 0.65, 0.64, 0.62, 0.6, 0.61,
  0.59, 0.6, 0.61, 0.62, 0.63, 0.64, 0.63, 0.63, 0.62, 0.6,
  0.61, 0.62, 0.6, 0.62, 0.63, 0.64, 0.63, 0.65, 0.62, 0.6,
  0.61, 0.62, 0.6, 0.61, 0.63, 0.64, 0.62, 0.63, 0.63, 0.62,
  0.63, 0.65, 0.67, 0.68, 0.66, 0.64, 0.63, 0.62, 0.64, 0.65,
  0.66, 0.63, 0.61, 0.62, 0.64, 0.65, 0.64, 0.62, 0.61, 0.63,
  0.63, 0.62, 0.64, 0.64, 0.63, 0.65, 0.64, 0.64, 0.65, 0.63,
  0.66, 0.65, 0.63, 0.64, 0.65, 0.66, 0.65, 0.66, 0.67, 0.68,
  0.66, 0.63, 0.64, 0.66, 0.67, 0.68, 0.65, 0.63, 0.62, 0.6,
  0.63, 0.64, 0.65, 0.63, 0.62, 0.61, 0.6, 0.62,
];
const dipObs = [
  null, 0.52, 0.55, 0.52, 0.6, 0.56, 0.52, null, null, 0.51,
  null, 0.68, 0.63, 0.56, 0.54, 0.54, 0.41, 0.29, 0.36, 0.45,
  0.51, 0.32, 0.49, 0.51, 0.58, 0.67,
];

const PLOT_H = 159.6;
const TOP_PAD = 24;

type Title = { text: string; sup?: string; tail?: string };

const panels = [
  { id: "ts", top: 33, domain: [5, 15], ticks: [5, 10, 15], ens: tsEns, hi: tsHi, lo: tsLo, unw: tsUnw, obs: tsObs,
    t1: { text: "Temperature" }, t2: { text: "surf (", sup: "o", tail: "C)" }, b1: 217, b2: 252 },
  { id: "ss", top: 221.3, domain: [4, 10], ticks: [4, 6, 8, 10], ens: ssEns, hi: ssHi, lo: ssLo, unw: ssUnw, obs: ssObs,
    t1: { text: "Salinity" }, t2: { text: "surf (g kg", sup: "-1", tail: ")" }, b1: 214, b2: 252 },
  { id: "td", top: 409.7, domain: [4, 10], ticks: [4, 6, 8, 10], ens: tdEns, hi: tdHi, lo: tdLo, unw: tdUnw, obs: tdObs,
    t1: { text: "Temperature" }, t2: { text: "deep (", sup: "o", tail: "C)" }, b1: 217, b2: 252 },
  { id: "sd", top: 598, domain: [5, 15], ticks: [5, 10, 15], ens: sdEns, hi: sdHi, lo: sdLo, unw: sdUnw, obs: sdObs,
    t1: { text: "Salinity" }, t2: { text: "deep (g kg", sup: "-1", tail: ")" }, b1: 214, b2: 252 },
  { id: "ox", top: 786.3, domain: [-10, 5], ticks: [-10, -5, 0, 5], ens: oxEns, hi: oxHi, lo: oxLo, unw: oxUnw, obs: oxObs,
    t1: { text: "Oxygen deep" }, t2: { text: "(ml L", sup: "-1", tail: ")" }, b1: 210, b2: 246 },
  { id: "din", top: 974.7, domain: [0, 10], ticks: [0, 5, 10], ens: dinEns, hi: dinHi, lo: dinLo, unw: dinUnw, obs: dinObs,
    t1: { text: "DIN surf" }, t2: { text: "(\u03bcmol L", sup: "-1", tail: ")" }, b1: 216, b2: 251 },
  { id: "dip", top: 1163, domain: [0, 1], ticks: [0, 0.5, 1], ens: dipEns, hi: dipHi, lo: dipLo, unw: dipUnw, obs: dipObs,
    t1: { text: "DIP surf" }, t2: { text: "(\u03bcmol L", sup: "-1", tail: ")" }, b1: 213, b2: 247 },
];

const XMark = (props: any) => {
  const { cx, cy, index } = props;
  if (cx == null || cy == null || props.value == null) return <g key={`x-${index}`} />;
  return (
    <path
      key={`x-${index}`}
      d={`M${cx - 4},${cy - 4}L${cx + 4},${cy + 4}M${cx + 4},${cy - 4}L${cx - 4},${cy + 4}`}
      stroke="#000"
      strokeWidth={1.8}
      fill="none"
    />
  );
};

const RedDot = (props: any) => {
  const { cx, cy, index } = props;
  if (cx == null || cy == null || props.value == null) return <g key={`o-${index}`} />;
  return <circle key={`o-${index}`} cx={cx} cy={cy} r={7.5} fill={RED} stroke="none" />;
};

function Panel({ p, bottom }: { p: any; bottom: boolean }) {
  const rows = years.map((year, i) => ({
    year,
    ens: p.ens[i],
    hi: p.hi[i],
    lo: p.lo[i],
    unw: p.unw[i],
    obs: i < p.obs.length ? p.obs[i] : null,
  }));
  const xH = bottom ? 70 : 20;
  return (
    <div style={{ position: "absolute", left: 0, top: p.top - TOP_PAD }}>
      <ComposedChart
        width={1362}
        height={TOP_PAD + PLOT_H + xH}
        data={rows}
        margin={{ top: TOP_PAD, right: 189, bottom: 0, left: 239 }}
      >
        <XAxis
          type="number"
          dataKey="year"
          domain={[1979, 2100]}
          ticks={yearTicks}
          interval={0}
          allowDataOverflow
          height={xH}
          tickSize={-8}
          tickMargin={20}
          axisLine={{ stroke: AXIS, strokeWidth: 1.3 }}
          tickLine={{ stroke: AXIS, strokeWidth: 1.3 }}
          tick={bottom ? { fill: "#000", fontSize: 24, fontFamily: FONT } : false}
        />
        <YAxis
          type="number"
          domain={p.domain}
          ticks={p.ticks}
          interval={0}
          allowDataOverflow
          width={60}
          tickSize={-8}
          tickMargin={12}
          axisLine={{ stroke: AXIS, strokeWidth: 1.3 }}
          tickLine={{ stroke: AXIS, strokeWidth: 1.3 }}
          tick={{ fill: "#000", fontSize: 24, fontFamily: FONT }}
        />
        <Line type="linear" dataKey="hi" stroke="#000" strokeWidth={1.2} dot={false} activeDot={false} isAnimationActive={false} />
        <Line type="linear" dataKey="lo" stroke="#000" strokeWidth={1.2} dot={false} activeDot={false} isAnimationActive={false} />
        <Line type="linear" dataKey="ens" stroke="#000" strokeWidth={6} dot={false} activeDot={false} isAnimationActive={false} />
        <Line type="linear" dataKey="unw" stroke="none" dot={XMark} activeDot={false} isAnimationActive={false} />
        <Line type="linear" dataKey="obs" stroke="none" dot={RedDot} activeDot={false} isAnimationActive={false} />
      </ComposedChart>
    </div>
  );
}

function TitleText({ x, cy, t }: { x: number; cy: number; t: Title }) {
  return (
    <text transform={`translate(${x},${cy}) rotate(-90)`} textAnchor="middle" fontFamily={FONT} fontSize={25} fill="#000">
      <tspan>{t.text}</tspan>
      {t.sup ? (
        <>
          <tspan fontSize={16} dy={-10}>{t.sup}</tspan>
          <tspan dy={10}>{t.tail}</tspan>
        </>
      ) : null}
    </text>
  );
}

export default function App() {
  return (
    <div style={{ position: "absolute", left: 0, top: 0, width: 1362, height: 1395, background: "#fff" }}>
      <div
        style={{
          position: "absolute",
          left: 7,
          top: 6,
          width: 1347,
          height: 1385,
          border: "1.5px solid #777",
        }}
      />
      {panels.map((p, i) => (
        <Panel key={p.id} p={p} bottom={i === panels.length - 1} />
      ))}
      <svg width={1362} height={1395} style={{ position: "absolute", left: 0, top: 0, pointerEvents: "none" }}>
        {panels.map((p) => (
          <g key={`t-${p.id}`}>
            <TitleText x={p.b1} cy={p.top + PLOT_H / 2} t={p.t1} />
            <TitleText x={p.b2} cy={p.top + PLOT_H / 2} t={p.t2} />
          </g>
        ))}
        {/* legend: observations */}
        <circle cx={884} cy={162} r={7.5} fill={RED} />
        <text x={925} y={171} fontFamily={FONT} fontSize={25} fill="#000">Annual mean obs. data</text>
        {/* legend: ensemble */}
        <line x1={323} x2={390} y1={725} y2={725} stroke="#000" strokeWidth={7} />
        <text x={397} y={734} fontFamily={FONT} fontSize={25} fill="#000">Ensemble</text>
        <line x1={508} x2={575} y1={725} y2={725} stroke="#000" strokeWidth={1.2} />
        <text x={582} y={734} fontFamily={FONT} fontSize={25} fill="#000">Ensemble {"\u00b1"}1 std</text>
        <path d="M788,718L796,726M796,718L788,726" stroke="#000" strokeWidth={1.8} />
        <text x={833} y={734} fontFamily={FONT} fontSize={25} fill="#000">Unweighted ensemble</text>
        <text x={736} y={1383} textAnchor="middle" fontFamily={FONT} fontSize={25} fill="#000">Years</text>
      </svg>
    </div>
  );
}
